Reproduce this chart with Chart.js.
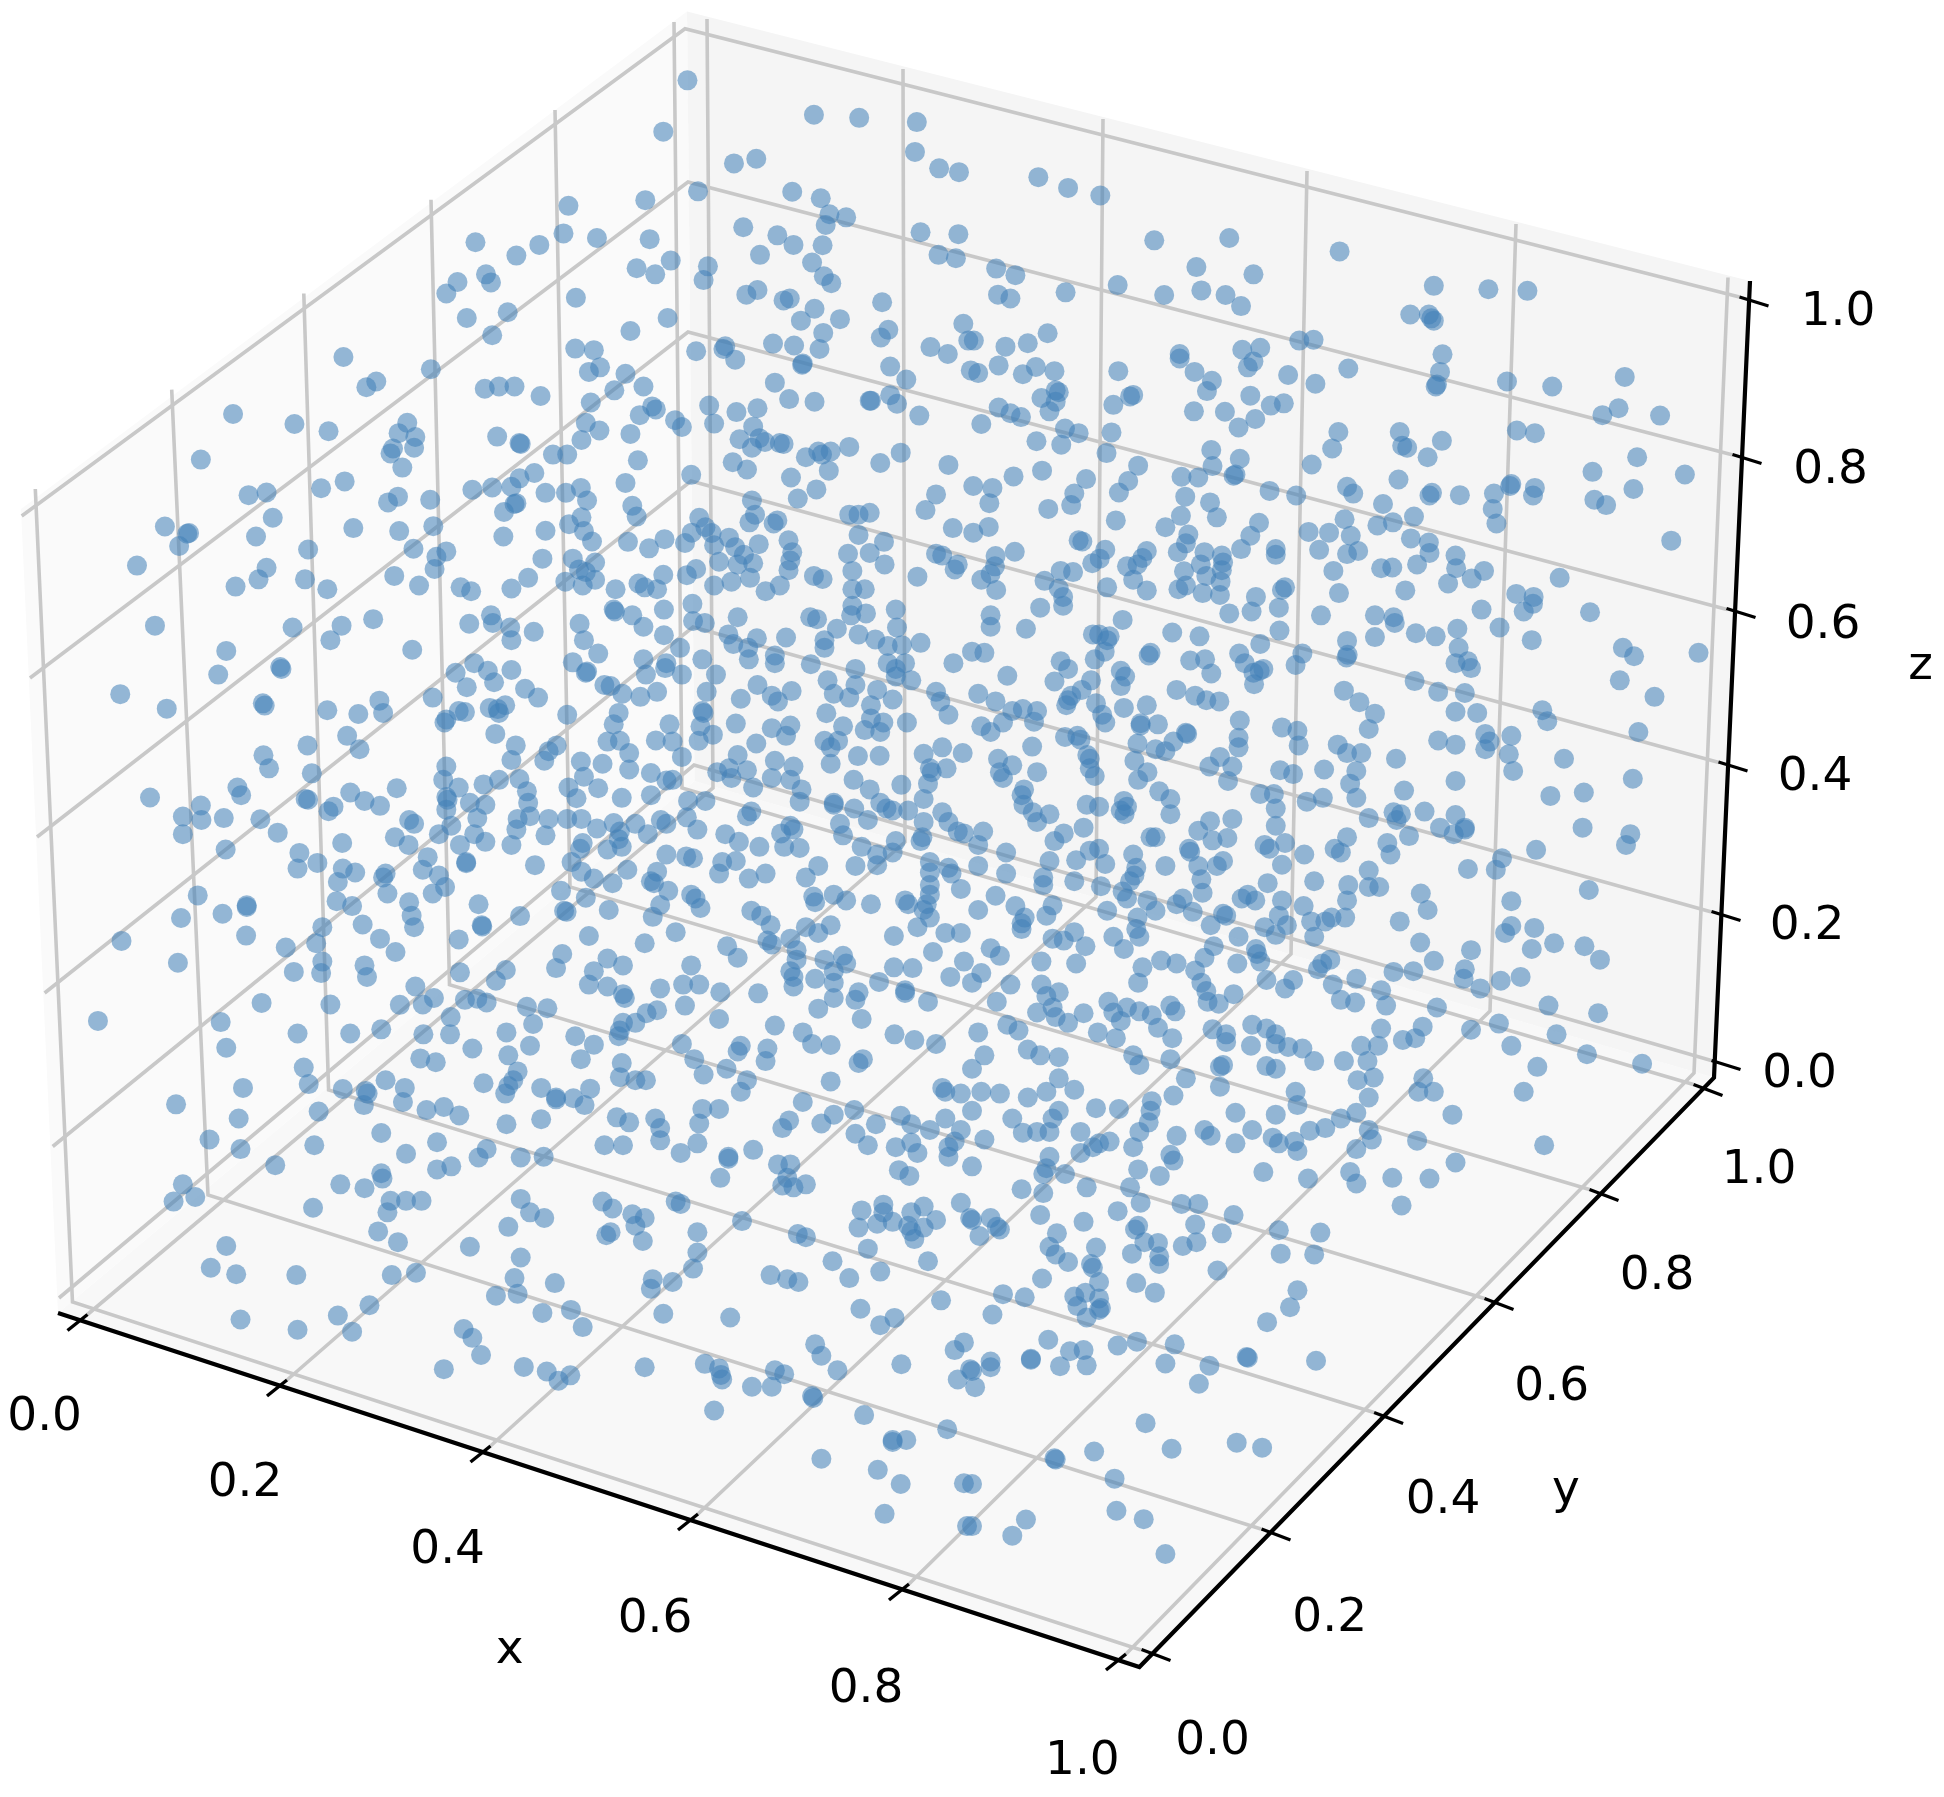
<!DOCTYPE html>
<html>
<head>
<meta charset="utf-8">
<style>html,body{margin:0;padding:0;background:#fff}canvas{display:block}</style>
<script src="https://cdn.jsdelivr.net/npm/chart.js@4/dist/chart.umd.min.js"></script>
</head>
<body>
<canvas id="c" width="1944" height="1797"></canvas>
<script>
// Projected positions of the points, read region by region from 972x600 crops stretched to 1568x1568.
const pointsNW = [1109,210,1070,344,1313,300,1386,308,1479,319,1476,397,1515,440,1547,450,1184,427,1220,415,1126,500,1041,523,917,538,1278,501,1324,518,1338,560,1365,568,1332,588,1199,594,1254,615,1280,640,1327,641,1226,666,1485,607,1546,612,1514,666,1542,675,909,610,963,622,1048,625,870,640,833,668,767,633,1082,681,1027,701,1057,717,1142,696,1135,732,1310,686,1329,722,1341,740,784,717,792,738,738,737,720,767,929,778,1204,770,1222,758,1264,785,1274,780,1423,790,1314,807,1077,831,1292,838,1355,834,819,816,753,831,794,876,1017,865,1328,870,1433,862,1421,882,1554,846,1247,898,1281,903,1322,912,1562,890,1501,907,1529,925,928,911,958,915,1123,918,1170,905,1167,912,1186,940,554,933,1295,950,1294,953,1436,958,695,965,968,960,950,972,1566,968,1009,977,1462,992,1250,1000,607,997,591,1012,782,1016,805,1010,830,1010,1038,1010,872,1035,991,1020,1273,1043,1314,1050,1403,1047,1436,1033,1447,1055,1405,1047,953,1052,1144,1060,1188,1077,1222,1067,1483,1086,1052,1062,1058,1070,1032,1085,376,1082,475,1108,530,1127,657,1105,643,1132,670,1142,945,1105,1089,1098,1100,1116,1152,1107,967,1125,1017,1134,1215,1115,1193,1148,802,1141,838,1158,840,1160,938,1150,1225,1145,1213,1170,1234,1155,1258,1158,1264,1160,668,1170,634,1172,630,1185,1370,1168,1300,1195,1320,1180,1326,1188,1340,1180,1453,1183,892,1188,915,1188,324,1201,1029,1203,1182,1208,1205,1227,1420,1210,1530,1215,649,1222,1337,1230,1115,1241,862,1236,838,1250,556,1258,518,1276,1009,1262,1276,1248,825,1272,794,1274,762,1280,937,1275,1317,1279,880,1288,913,1288,430,1287,401,1294,642,1298,626,1313,694,1306,1287,1303,1510,1292,947,1308,830,1317,833,1315,1213,1308,813,1338,1020,1322,1027,1350,1493,1333,1370,1345,1385,1345,1403,1340,1218,1345,440,1353,1128,1353,938,1352,1209,1365,1254,1360,1248,1368,918,1370,699,1375,266,1376,570,1380,1138,1378,644,1388,880,1387,302,1395,305,1393,1537,1380,413,1402,942,1388,1116,1392,1148,1393,1385,1398,812,1402,1176,1405,289,1427,1013,1416,1072,1409,955,1415,1105,1419,1224,1422,1272,1412,1426,1416,497,1436,667,1434,720,1441,1047,1433,1152,1425,1186,1430,1278,1443,1368,1447,1403,1445,1510,1447,875,1460,924,1460,704,1455,960,1470,1200,1450,1160,1468,1275,1465,1427,1475,1520,1452,1545,1475,221,1478,1272,1490,1190,1475,1215,1472,1375,1492,701,1487,430,1484,934,1488,1123,1487,1540,1488,417,1514,636,1505,492,1514,852,1510,1070,1502,1108,1503,945,1495,960,1515,1180,1520,1210,1510,1313,1505,1327,1513,1480,1507,380,1533,528,1540,676,1530,912,1520,825,1538,940,1530,743,1535,760,1545,1030,1525,1040,1535,1060,1540,1152,1530,993,1540,1235,1545,1258,1530,1375,1540,1395,1540];
const pointsNE = [107,463,155,491,207,511,294,628,415,622,593,657,39,702,70,719,362,698,454,717,235,745,745,747,833,756,896,760,42,770,62,780,151,764,310,771,370,759,409,771,434,800,707,822,737,822,745,838,741,832,122,871,90,897,54,906,3,890,528,890,551,888,436,914,465,909,335,925,335,937,759,926,454,945,445,960,607,963,43,955,103,959,82,978,10,975,133,970,236,970,359,972,387,995,755,972,863,997,936,1010,1053,985,510,980,554,1003,750,1005,748,1010,135,1020,140,1025,112,1040,379,1022,449,1034,260,1032,255,1036,135,1050,228,1058,125,1075,43,1065,62,1080,79,1090,1043,1067,1017,1085,1110,1086,482,1060,503,1054,358,1075,408,1076,457,1095,430,1117,15,1108,150,1120,172,1132,225,1130,879,1125,908,1132,591,1129,690,1129,758,1152,104,1153,144,1162,694,1165,702,1170,581,1172,386,1176,217,1184,432,1199,735,1195,1073,1195,268,1217,388,1218,548,1214,113,1230,1001,1233,67,1245,184,1252,425,1240,422,1243,338,1246,365,1248,1150,1240,252,1257,688,1253,33,1275,2,1270,480,1283,870,1265,868,1270,605,1272,908,1275,1067,1278,237,1287,344,1298,523,1295,615,1290,742,1288,738,1295,787,1294,842,1290,905,1295,165,1290,28,1315,160,1320,384,1313,663,1317,1004,1306,1023,1320,123,1330,840,1330,337,1348,395,1352,601,1357,713,1350,232,1360,463,1366,654,1373,679,1365,846,1368,27,1377,312,1378,2,1392,543,1390,576,1392,349,1397,611,1400,449,1400,708,1407,172,1412,178,1415,1128,1413,737,1418,345,1420,434,1435,490,1435,332,1443,560,1437,623,1440,605,1448,738,1445,69,1442,215,1437,282,1440,375,1443,403,1452,780,1452,490,1450,38,1453,206,1460,194,1472,405,1470,275,1458,267,1475,250,1480,369,1475,660,1485,678,1483,718,1475,583,1492,37,1480,143,1492,163,1495,342,1493,403,1490,781,1485,826,1492,30,1500,15,1515,117,1518,260,1515,378,1505,806,1512,948,1510,401,1520,768,1525,218,1535,140,1538,345,1530,333,1540,505,1535,500,1542,39,1542,282,1543,372,1550,592,1550,878,1552,906,1560,699,1543,147,1560,400,1555,458,1560];
const pointsW = [158,1100,250,67,472,72,551,67,602,50,533,105,665,130,757,62,792,40,795,60,823,72,861,83,825,105,935,62,942,105,990,25,992,30,1020,40,1038,70,1071,25,1071,92,1117,10,1118,55,1137,60,1190,45,1175,90,1221,100,1268,98,1183,115,1207,125,1208,155,1307,45,1318,50,1350,75,1375,15,1373,40,1397,35,1445,25,1447,72,1485,112,1385,90,1412,103,1330,105,1330,125,1432,120,1455,118,365,133,1097,125,1133,155,1250,145,1250,165,1038,155,1075,165,965,140,924,163,452,175,454,180,352,195,765,165,825,183,735,190,947,187,945,190,787,185,1073,178,1042,195,1100,195,1155,195,1308,168,1380,180,1432,165,1445,180,1460,165,1538,165,1470,210,1445,200,1335,210,1380,222,1222,222,797,215,975,222,985,225,753,228,847,232,1277,238,1415,235,194,246,1004,245,1060,240,1033,253,1140,240,1245,250,1345,245,1510,240,1370,255,868,255,698,255,1195,258,1255,265,1440,260,1405,275,1517,265,269,284,424,270,427,276,612,263,618,295,528,288,578,298,740,290,750,293,803,285,815,275,790,282,805,295,998,295,1133,290,1135,295,1333,296,1530,300,1360,330,915,300,720,312,717,320,1463,320,1405,310,1425,320,990,325,1080,325,1187,323,1245,335,1275,328,1130,330,1268,355,1395,340,1420,345,799,350,560,355,1150,352,1058,367,980,370,1000,368,1085,370,1127,368,1330,368,1352,368,1220,375,832,380,496,380,580,390,1340,385,898,380,885,395,1015,400,1520,385,1490,402,1384,408,1419,407,1553,400,1190,405,1340,428,425,406,1100,410,825,418,878,420,937,422,972,428,1015,443,1176,440,1250,420,1280,435,434,440,720,435,503,453,1050,452,1500,440,1503,450,1527,440,1157,450,1205,445,1180,465,1245,465,1275,470,1377,470,715,470,805,470,942,462,838,468,1085,470,1075,472,780,482,1454,483,917,490,965,492,740,490,383,490,389,510,640,492,1215,490,1293,495,1497,480,1050,510,1003,517,930,518,850,500,1290,527,1403,495,242,516,565,503,720,515,722,522,493,520,497,522,588,525,1345,530,1345,535,852,530,613,538,538,540,530,552,758,530,783,535,1138,525,1110,525,1420,530,1378,545,1430,545,1490,520,1520,555,324,537,295,566,325,575,361,570,420,573,720,548,1212,553,1400,575,1440,550,1465,550,938,572,855,565,915,572,835,572,885,572,770,570,1108,568,1205,565,1490,580,660,575,668,585,963,597,990,583,1025,585,1066,575,1075,585,1530,580,1355,585,1275,590,1280,600,728,590,833,600,1000,605,1545,605,1125,600,448,608,295,612,708,612,765,612,1260,610,1360,615,1488,620,1170,612,880,615,1045,612,998,625,1555,610,637,620,783,632,659,640,552,635,1192,632,1225,645,825,640,742,640,940,635,1003,645,1445,630,1390,645,1265,645,1290,648,936,650,980,652,364,652,1485,630,1440,660,483,661,1075,665,1107,670,1118,675,1415,665,1165,685,1187,682,690,672,512,687,752,685,752,688,922,685,863,693,480,702,1320,695,1380,695,1415,693,1500,685,1530,700,553,702,573,712,682,705,622,715,618,725,938,710,1012,705,1160,715,1235,715,1208,728,708,720,1060,710,1500,712,1535,715,1300,725,545,737,958,728,1050,735,988,740,1055,740,1500,745,718,750,1078,760,625,767,698,767,905,760,1345,770,319,772,1312,775,1365,785,1550,755,1115,770,1122,780,1500,770,945,778,1405,795,1460,785,1465,795,1315,790,772,795,1495,795,1130,805,398,798,398,802,543,787,568,800,660,790,1490,810,982,810,359,820,1212,812,292,831,1065,797,910,812,914,815,664,825,839,826,1053,828,1228,825,1500,830,585,848,777,850,778,853,520,855,668,855,1243,850,1340,850,1300,855,1480,855,1525,870,1550,870,1090,868,397,877,950,878,1320,870,1442,878,196,891,613,885,740,887,1238,890,1040,897,510,897,461,908,1173,905,1275,885,1245,900,638,920,907,925,1190,935,1285,915,1285,940,1360,930,1505,920,1365,950,1330,940,980,937,287,948,520,945,1555,945,1115,955,1005,955,588,955,897,962,1442,960,1472,962,816,967,474,972,518,975,592,985,742,973,958,970,1280,985,1275,970,1345,970,1533,985,800,995,1315,990,950,1005,670,1010,980,1010,1418,998,1102,1005,1128,1005,1065,1015,1280,1010,1345,1000,1460,1020,1162,1025,1223,1028,1385,1025,1005,1030,1008,1040,1460,1027,645,1058,700,1040,750,1045,770,1042,682,1057,785,1052,1345,1040,1380,1045,1497,1050,422,1053,533,1057,850,1063,883,1067,1105,1060,1320,1068,1060,1072,1043,1080,1160,1095,1390,1095,727,1090,1005,1105,1025,1105,356,1103,860,1108,1250,1112,615,1122,565,1133,480,1133,683,1135,726,1135,817,1130,1295,1130,1000,1125,998,1140,928,1140,1443,1135,1475,1150,1510,1160,1310,1160,1340,1163,958,1162,1100,1160,855,1165,365,1170,762,1172,1195,1165,1190,1180,1238,1172,820,1190,678,1198,703,1208,1120,1200,937,1200,1235,1205,1392,1200,1385,1210,490,1222,1003,1210,1172,1225,1135,1240,835,1232,1000,1247,1025,1255,1042,1255,1340,1258,622,1255,828,1255,820,1270,780,1263,498,1265,653,1275,553,1278,873,1275,952,1277,1205,1255,1195,1285,1520,1275,1525,1285,392,1275,590,1283,593,1290,815,1290,925,1302,897,1305,897,1300,1550,1290,650,1312,587,1320,284,1318,943,1320,1295,1312,716,1325,1133,1330,1160,1330,688,1333,741,1347,514,1337,1378,1333,385,1355,995,1352,1057,1355,1015,1365,1128,1368,1345,1345,1453,1348,1325,1368,1273,1360,1262,1380,873,1357,817,1370,1065,1380,1413,1370,1470,1370,1525,1355,1550,1385,1500,1385,615,1393,1380,1395,338,1410,1065,1412,1400,1425,1470,1418,1540,1415,1530,1430,1445,1430,507,1425,705,1417,975,1425,1005,1425,1125,1420,388,1435,785,1435,772,1457,840,1457,877,1455,1098,1445,1175,1455,1175,1460,1215,1437,1480,1445,1530,1455,655,1447,444,1477,1255,1475,1275,1475,1450,1490,1467,1505,705,1488,728,1480,615,1498,617,1512,1162,1510,295,1527,549,1527,588,1537,1270,1510,1262,1530,1300,1527,1280,1535];
const pointsE = [110,20,147,15,30,40,87,75,30,70,415,35,451,30,495,20,563,40,650,40,680,45,682,60,822,25,890,30,905,10,997,32,243,52,205,90,195,90,222,95,218,105,323,85,367,95,496,80,716,87,748,95,783,75,851,72,903,105,650,97,465,115,605,107,785,125,1050,125,1172,138,20,138,0,135,1068,147,214,135,288,138,285,145,431,140,533,140,606,143,604,150,198,155,143,160,352,158,376,155,440,165,470,180,464,185,522,170,780,165,800,160,805,178,155,180,57,198,240,185,247,200,386,192,454,190,455,220,133,213,192,210,240,225,1045,210,714,212,177,235,330,235,360,250,160,250,155,262,152,275,600,237,378,262,399,265,752,240,795,243,625,267,1101,253,10,245,38,265,200,270,245,282,282,275,65,290,82,285,105,290,650,297,780,292,815,295,920,288,928,317,50,320,100,318,210,300,215,320,432,315,15,330,30,345,272,322,300,325,272,328,500,333,640,337,525,342,347,350,345,347,1075,345,870,355,828,350,150,358,170,355,175,365,430,360,752,367,780,378,835,370,325,370,97,383,267,375,296,390,312,395,430,385,527,380,590,378,605,400,628,400,828,390,866,403,400,410,186,405,190,415,262,420,42,415,65,432,105,450,684,415,955,415,383,435,420,435,873,447,45,450,50,465,190,440,198,460,283,450,497,445,518,455,568,443,620,447,1066,467,268,470,413,473,610,480,780,473,84,495,465,507,487,507,697,498,302,500,80,510,987,503,933,512,620,517,320,520,83,535,540,527,566,517,185,535,205,540,245,525,250,540,240,550,490,545,320,560,98,555,125,560,730,553,640,570,680,555,692,560,685,575,780,562,420,572,384,578,105,580,246,560,490,590,180,595,755,595,795,595,795,600,985,595,1062,612,148,610,18,605,365,603,777,612,288,620,296,620,412,622,388,628,705,617,670,635,133,630,1055,640,605,620,10,640,472,640,505,635,585,650,595,660,480,650,205,650,190,655,350,650,352,658,168,680,260,665,675,665,536,665,910,653,55,660,855,675,365,695,215,690,405,682,125,682,10,695,395,695,500,692,845,705,312,695,640,707,800,703,552,735,265,700,262,720,255,735,55,715,115,725,370,730,115,745,165,735,477,740,640,750,657,750,607,745,995,758,724,767,208,748,372,765,243,762,445,770,435,780,605,785,500,785,38,773,340,780,457,785,250,780,870,787,130,798,283,785,535,800,70,800,330,795,218,812,356,815,735,810,296,812,405,820,410,825,10,810,267,830,120,825,85,830,80,845,80,860,690,840,870,852,907,857,495,825,508,850,602,830,580,830,570,840,547,840,385,850,472,855,265,860,860,870,490,875,148,890,130,885,165,868,228,880,270,880,430,880,552,880,939,897,723,895,183,905,245,912,390,905,988,905,805,915,903,912,30,910,45,930,458,912,460,925,1013,940,112,945,168,950,305,942,330,950,465,945,375,935,428,950,745,943,578,940,565,950,558,965,680,972,712,970,795,965,793,990,15,975,275,960,360,968,885,985,853,995,820,1015,620,990,475,993,518,993,505,1015,268,1000,370,1000,62,1005,582,1005,660,1020,112,1005,140,1025,120,1035,378,1022,0,1000,422,1030,595,1045,618,1052,40,1050,380,1050,398,1055,220,1050,668,1060,750,1065,930,1060,1010,1080,250,1065,130,1065,105,1078,320,1060,328,1075,270,1075,180,1080,228,1078,290,1085,135,1090,155,1105,240,1100,452,1110,660,1120,727,1115,850,1107,805,1123,57,1110,388,1122,475,1120,75,1125,300,1118,410,1135,410,1155,490,1135,203,1130,232,1145,323,1145,10,1130,695,1150,715,1145,943,1135,628,1165,655,1165,450,1165,490,1160,510,1168,533,1172,870,1165,90,1175,20,1190,110,1190,140,1195,260,1190,320,1200,992,1187,552,1205,600,1205,638,1205,405,1215,400,1220,475,1218,490,1225,270,1215,0,1225,1081,1212,912,1220,728,1250,140,1250,345,1250,622,1255,648,1248,400,1272,522,1285,720,1285,745,1285,15,1285,45,1290,90,1300,165,1280,120,1285,640,1300,325,1295,290,1310,890,1285,525,1320,620,1340,200,1328,237,1330,288,1335,425,1340,775,1345,490,1345,0,1335,65,1355,140,1335,130,1355,285,1365,595,1355,570,1380,375,1385,545,1387,640,1385,452,1385,82,1392,105,1390,125,1390,175,1390,270,1390,330,1400,385,1400,645,1410,485,1405,495,1420,520,1415,20,1410,718,1413,425,1420,205,1420,222,1415,260,1430,620,1435,175,1445,195,1430,525,1440,923,1425,125,1455,320,1450,325,1465,0,1480,780,1470,120,1485,150,1500,268,1488,470,1495,610,1495,115,1500,620,1525,303,1505,678,1510,738,1512,542,1512,185,1535,80,1540,255,1535,115,1550];
const pointsSW = [280,12,315,0,505,28,630,10,625,40,655,10,680,10,840,5,855,40,878,55,820,78,610,90,642,118,365,128,758,130,840,158,340,185,381,202,478,204,632,204,671,198,972,12,988,30,1020,45,1040,55,1025,75,985,92,978,100,1037,115,1090,12,1098,18,1197,63,1125,92,1125,145,1118,187,1287,97,1300,105,1390,35,1425,20,1425,40,1385,80,1415,70,1440,65,1470,40,1490,25,1510,60,1465,75,1470,90,1490,80,1475,110,1400,135,1343,168,1497,168,1420,195,1370,212,1243,204,1270,215,1288,222,830,212,895,225,1053,215,1085,222,1050,240,800,258,835,253,596,283,545,310,388,320,480,347,568,352,875,303,921,295,940,340,1070,305,1178,315,1388,292,1518,270,1443,316,1420,335,748,345,762,368,776,413,716,450,845,444,882,456,901,480,920,466,1040,445,1137,436,1160,448,1163,465,1165,477,1315,385,1325,415,1351,453,1250,453,1265,463,1213,496,1245,496,1454,437,1540,400,1555,380,1565,450,1545,477,1310,520,1312,525,1152,558,1394,570,1528,607,1440,635,1462,635,1440,640,1325,684,1416,713,1453,750,1555,748,1427,828,1560,860,1550,15,1565,55];
const pointsSE = [110,47,180,65,235,37,272,15,338,18,365,18,422,47,30,55,40,78,45,85,12,102,0,60,137,95,268,75,263,85,360,72,403,95,495,87,562,93,125,130,135,150,155,170,200,132,258,148,278,118,300,120,302,155,302,175,340,128,362,118,498,148,552,150,192,175,195,185,396,192,113,213,205,222,265,225,295,250,525,244,50,254,85,262,165,260,183,250,205,265,208,290,170,285,185,315,205,295,513,288,33,307,476,327,123,373,235,388,266,378,327,385,158,403,180,400,95,423,95,425,30,430,30,445,142,442,185,440,312,435,383,441,443,418,445,420,555,428,0,455,5,497,366,488,280,591,427,642,468,655,197,665,322,658,133,683,135,686,230,736,233,820,277,842,87,843,65,885,312,933,0,860,0,750,693,22];
const pointRegions = [[pointsNW,0,0],[pointsNE,972,0],[pointsW,0,600],[pointsE,972,600],[pointsSW,0,1197],[pointsSE,972,1197]];

// Wall and floor outlines
const leftPane  = [[21,509],[687,11.5],[694.5,781],[58,1313],[21,509]];
const rightPane = [[687,11.5],[1750,281],[1714,1077.6],[694.5,781],[687,11.5]];
const floorPane = [[58,1313],[694.5,781],[1714,1077.6],[1139.4,1667],[58,1313]];

// Grid polylines (one entry per tick)
const tickLabels = ['0.0','0.2','0.4','0.6','0.8','1.0'];
const gridXFront = [[87.5,1314.5],[287,1380],[490.5,1446],[698,1514],[909,1584],[1126,1654]];
const gridXBend  = [[713,788],[905,842],[1096,897],[1291,954],[1490,1011],[1694,1073]];
const gridXTop   = [[707,19],[903,69],[1103,119],[1307,171],[1516,224],[1728,277.5]];
const gridYRight = [[1141,1650],[1261,1529],[1374,1412.5],[1484.5,1298.5],[1589.5,1189.5],[1693.5,1084.5]];
const gridYBend  = [[72.5,1302],[208,1195],[328.6,1090],[449.5,984.6],[570,887],[682,788]];
const gridYTop   = [[35.3,489],[171.7,389.6],[303.8,293.5],[431,199.8],[555,110],[674,22]];
const gridZRight = [[1713,1061],[1711.6,912],[1719,762.6],[1727,609.6],[1733,455],[1739.5,297]];
const gridZBack  = [[694,765],[693,627],[691,481],[688,332],[688,182],[685,28.7]];
const gridZLeft  = [[59,1298],[52.7,1146.5],[44.6,993],[37,837],[30,678],[21.7,516]];

// Axis lines and ticks
const axisLine = [[58,1313],[1139.4,1667],[1714,1077.6],[1750,281]];
const ticksX = [[77.5,1322.5],[277,1388],[480.5,1454],[688,1522],[899,1592],[1116,1662]];
const ticksY = [[1156,1655],[1276,1534.5],[1388.6,1418],[1499,1304],[1604,1195],[1708,1090]];
const ticksZ = [[1726,1065],[1726,916],[1733,766.5],[1741,613],[1747,459],[1754,301.5]];

// Text positions
const labelsX = [[44.6,1413],[245,1479],[447.6,1546],[655,1615],[866,1685],[1082.4,1756.5]];
const labelsY = [[1212.5,1736.6],[1329.7,1614],[1443,1496],[1551.7,1382.6],[1657,1271.6],[1759,1165.6]];
const labelsZ = [[1799.6,1070],[1807,921.5],[1815,773],[1823,621],[1830.6,466],[1838,308]];
const axisTitles = [['x',509.6,1663],['y',1566,1503],['z',1920.5,678.5]];

const GRID = '#c8c8c8', BLUE = 'rgba(66,128,184,0.56)';
const xy = p => ({x:p[0], y:p[1]});
const lineDs = (pts,color,width,order) => ({type:'scatter',showLine:true,data:pts.map(xy),borderColor:color,borderWidth:width,pointRadius:0,fill:false,order,tension:0,borderCapStyle:'butt',borderJoinStyle:'miter'});
const paneDs = (pts,color) => ({type:'scatter',showLine:true,data:pts.map(xy),borderColor:'transparent',borderWidth:0,backgroundColor:color,pointRadius:0,fill:'shape',order:100,tension:0});

const datasets = [
  paneDs(leftPane,'#fafafa'), paneDs(rightPane,'#f5f5f5'), paneDs(floorPane,'#f8f8f8')
];
tickLabels.forEach((_,i)=>{
  datasets.push(lineDs([gridXFront[i],gridXBend[i],gridXTop[i]],GRID,3.6,50));
  datasets.push(lineDs([gridYRight[i],gridYBend[i],gridYTop[i]],GRID,3.6,50));
  datasets.push(lineDs([gridZRight[i],gridZBack[i],gridZLeft[i]],GRID,3.6,50));
  const tick = (c,dx,dy) => lineDs([[c[0]-dx,c[1]-dy],[c[0]+dx,c[1]+dy]],'#000',3.4,40);
  datasets.push(tick(ticksX[i],-10,8));
  datasets.push(tick(ticksY[i],14.5,5.5));
  datasets.push(tick(ticksZ[i],14.5,4.5));
});
datasets.push(lineDs(axisLine,'#000',4.2,40));
const scaleX = 1568/972, scaleY = 1568/600;
const pointData = [];
pointRegions.forEach(([arr,ox,oy])=>{
  for(let i=0;i<arr.length;i+=2) pointData.push({x:arr[i]/scaleX+ox,y:arr[i+1]/scaleY+oy});
});
datasets.push({type:'scatter',data:pointData,backgroundColor:BLUE,pointBorderWidth:0,borderWidth:0,pointRadius:10,pointHoverRadius:10,order:1,clip:false});

const textPlugin = {
  id:'axisText',
  afterDatasetsDraw(chart){
    const {ctx,scales:{x,y}} = chart;
    ctx.save();
    ctx.fillStyle='#000';
    ctx.font='47px "DejaVu Sans"';
    ctx.textAlign='center';
    ctx.textBaseline='alphabetic';
    [labelsX,labelsY,labelsZ].forEach(list=>list.forEach((p,i)=>{
      ctx.fillText(tickLabels[i],x.getPixelForValue(p[0]),y.getPixelForValue(p[1]+17.2));
    }));
    axisTitles.forEach(([t,px,py])=>ctx.fillText(t,x.getPixelForValue(px),y.getPixelForValue(py)));
    ctx.restore();
  }
};

const chart = new Chart(document.getElementById('c'),{
  type:'scatter',
  data:{datasets},
  options:{
    responsive:false,animation:false,
    layout:{padding:0},
    plugins:{legend:{display:false},tooltip:{enabled:false},title:{display:false}},
    events:[],
    scales:{
      x:{type:'linear',min:0,max:1944,display:false},
      y:{type:'linear',min:0,max:1797,reverse:true,display:false}
    }
  },
  plugins:[textPlugin]
});
// The library insets the plot area by the point radius: set the scale ends to the area's pixels so that one unit stays one picture pixel.
const area = chart.chartArea;
chart.options.scales.x.min = area.left;
chart.options.scales.x.max = area.right;
chart.options.scales.y.min = area.top;
chart.options.scales.y.max = area.bottom;
chart.update();
</script>
</body>
</html>
